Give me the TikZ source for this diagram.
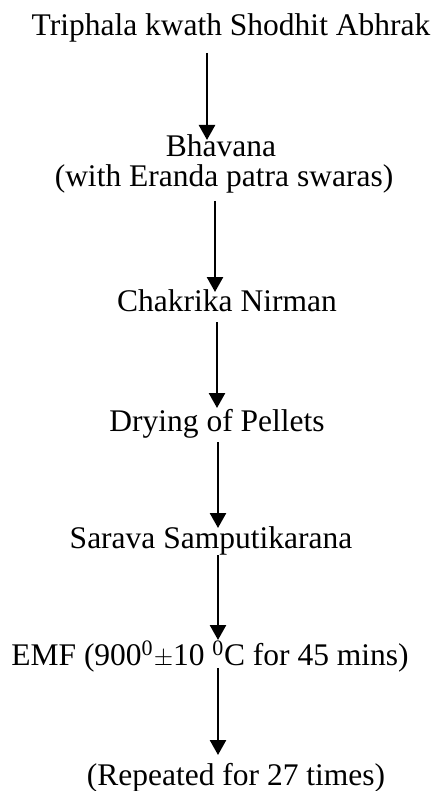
\documentclass[tikz,border=0pt]{standalone}
\usepackage{fontspec}
\setmainfont{Liberation Serif}
\usetikzlibrary{arrows.meta}
\tikzset{
  lbl/.style={anchor=base, inner sep=0pt, font=\fontsize{31.5}{37.8}\selectfont},
  arr/.style={line width=2.5pt, -{Triangle[length=15pt,width=16pt]}}
}
\begin{document}
\begin{tikzpicture}[x=1pt,y=-1pt]
\useasboundingbox[fill=white] (0,0) rectangle (438,791);
\node[lbl] (t1) at (231,36) {Triphala kwath Shodhit Abhrak};
\node[lbl] (t2) at (221,157) {Bhavana};
\node[lbl] (t2b) at (224,187) {(with Eranda patra swaras)};
\node[lbl] (t3) at (227,311) {Chakrika Nirman};
\node[lbl] (t4) at (217,431) {Drying of Pellets};
\node[lbl] (t5) at (211,548) {Sarava Samputikarana};
\node[lbl] (t6) at (210,665) {EMF (900\textsuperscript{0}\kern0.5pt$\pm$10 \textsuperscript{0}C for 45 mins)};
\node[lbl] (t7) at (236,785) {(Repeated for 27 times)};
\draw[arr, shorten <=17pt, shorten >=17pt] (t1.base -| 207,0) -- (t2.base -| 207,0);
\draw[arr, shorten <=14pt, shorten >=19pt] (t2b.base -| 215,0) -- (t3.base -| 215,0);
\draw[arr, shorten <=11pt, shorten >=23pt] (t3.base -| 217,0) -- (t4.base -| 217,0);
\draw[arr, shorten <=11pt, shorten >=20pt] (t4.base -| 218,0) -- (t5.base -| 218,0);
\draw[arr, shorten <=7pt, shorten >=25pt] (t5.base -| 218,0) -- (t6.base -| 218,0);
\draw[arr, shorten <=3pt, shorten >=30pt] (t6.base -| 218,0) -- (t7.base -| 218,0);
\end{tikzpicture}
\end{document}
